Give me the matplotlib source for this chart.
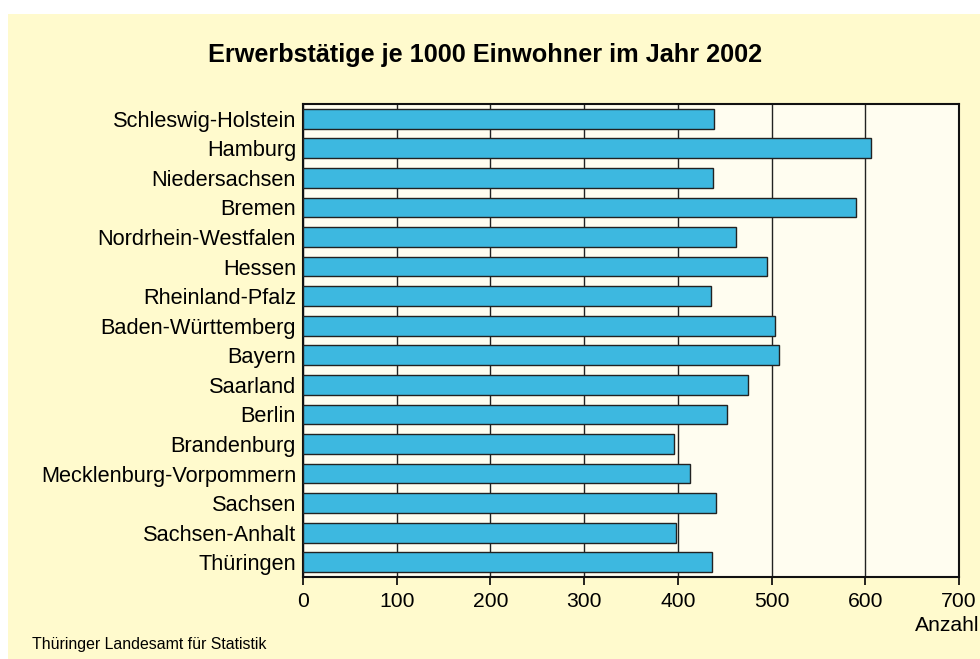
import numpy as np
import matplotlib.pyplot as plt
from matplotlib.patches import Rectangle

plt.rcParams['font.family'] = ['Liberation Sans', 'DejaVu Sans']

laender = ["Schleswig-Holstein", "Hamburg", "Niedersachsen", "Bremen",
           "Nordrhein-Westfalen", "Hessen", "Rheinland-Pfalz", "Baden-Württemberg",
           "Bayern", "Saarland", "Berlin", "Brandenburg",
           "Mecklenburg-Vorpommern", "Sachsen", "Sachsen-Anhalt", "Thüringen"]
werte = [439, 606, 437, 590, 462, 495, 435, 504, 508, 475, 452, 396, 413, 441, 398, 436]
xticks = [0, 100, 200, 300, 400, 500, 600, 700]

fig = plt.figure(figsize=(9.8, 6.59), dpi=100, facecolor='white')
# gelber Hintergrund mit weissem Rand oben/links
fig.patches.append(Rectangle((8/980, 0), 1, 1 - 14/659, transform=fig.transFigure,
                             facecolor='#FFFACD', edgecolor='none', zorder=-5))

ax = fig.add_axes([303/980, 1 - 577/659, 656/980, 473/659])
ax.set_facecolor('#FFFDF0')

y = np.arange(len(laender))
ax.barh(y, werte, height=0.67, color='#3DB8E0', edgecolor='#222222', linewidth=1, zorder=3)

ax.set_xlim(0, 700)
ax.set_ylim(len(laender) - 0.5, -0.5)
ax.set_xticks(xticks)
ax.set_yticks(y)
ax.set_yticklabels(laender)
ax.xaxis.grid(True, color='#222222', linewidth=1)
ax.set_axisbelow(True)

ax.tick_params(axis='y', length=0, pad=5, labelsize=15.7)
ax.tick_params(axis='x', length=6, width=1.2, pad=5, labelsize=15.2)
for s in ax.spines.values():
    s.set_linewidth(1.5)
    s.set_color('#111111')

fig.text(485/980, 1 - 55/659, "Erwerbstätige je 1000 Einwohner im Jahr 2002",
         ha='center', va='center', fontsize=18.2, fontweight='bold')
fig.text(979/980, 1 - 631/659, "Anzahl", ha='right', va='baseline', fontsize=15.2)
fig.text(32/980, 1 - 644/659, "Thüringer Landesamt für Statistik", ha='left',
         va='center', fontsize=11.4)

fig.savefig('out.png', dpi=100, facecolor=fig.get_facecolor())
